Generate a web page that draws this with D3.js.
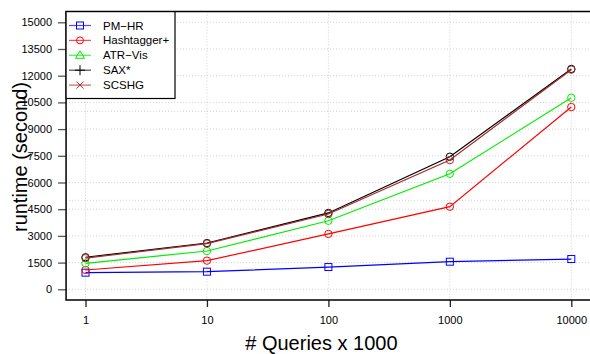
<!DOCTYPE html>
<html>
<head>
<meta charset="utf-8">
<script src="https://cdn.jsdelivr.net/npm/d3@7"></script>
<style>
  body { margin: 0; background: #fff; }
  text { font-family: "Liberation Sans", Arial, Helvetica, sans-serif; }
</style>
</head>
<body>
<div id="chart-area"></div>
<script>
// Datos
var queries = [1, 10, 100, 1000, 10000];
var xTickLabels = ["1", "10", "100", "1000", "10000"];
var yTicks = [0, 1500, 3000, 4500, 6000, 7500, 9000, 10500, 12000, 13500, 15000];
var yGridExtra = [5000, 10000];

var seriesNames = ["PM\u2212HR", "Hashtagger+", "ATR\u2212Vis", "SAX*", "SCSHG"];
var pmhr       = [935, 990, 1250, 1550, 1700];
var hashtagger = [1085, 1610, 3110, 4640, 10240];
var atrvis     = [1460, 2150, 3850, 6490, 10760];
var sax        = [1800, 2600, 4290, 7450, 12380];
var scshg      = [1750, 2570, 4230, 7260, 12340];

var colors = ["#0000ff", "#ff0000", "#00ee00", "#000000", "#a52a2a"];
var allSeries = [pmhr, hashtagger, atrvis, sax, scshg];

var width = 590, height = 354;

var svg = d3.select("#chart-area")
    .append("svg")
    .attr("width", width)
    .attr("height", height);

// Escalas
var x = d3.scaleLog().domain([1, 10000]).range([85.5, 571.3]);
var y = d3.scaleLinear().domain([0, 15000]).range([289.3, 22.3]);

var boxLeft = x(Math.pow(10, -0.16)), boxRight = x(Math.pow(10, 4.16));
var boxTop = y(15600), boxBottom = y(-600);

// Grid
var grid = svg.append("g").attr("class", "grid")
    .attr("stroke", "#cfcfcf").attr("stroke-dasharray", "1,2");
grid.selectAll("line.h")
    .data(yTicks.concat(yGridExtra))
    .enter().append("line")
    .attr("x1", boxLeft).attr("x2", boxRight)
    .attr("y1", d => y(d)).attr("y2", d => y(d));
grid.selectAll("line.v")
    .data(queries)
    .enter().append("line")
    .attr("x1", d => x(d)).attr("x2", d => x(d))
    .attr("y1", boxTop).attr("y2", boxBottom);

// Lineas
var line = d3.line()
    .x((d, i) => x(queries[i]))
    .y(d => y(d));

allSeries.forEach((s, k) => {
    svg.append("path")
        .datum(s)
        .attr("fill", "none")
        .attr("stroke", colors[k])
        .attr("stroke-width", 1.2)
        .attr("d", line);
    var pts = svg.selectAll(".pt" + k).data(s).enter();
    if (k === 0) {
        pts.append("rect")
            .attr("x", (d, i) => x(queries[i]) - 3.5)
            .attr("y", d => y(d) - 3.5)
            .attr("width", 7).attr("height", 7)
            .attr("fill", "none").attr("stroke", colors[k]);
    } else {
        pts.append("circle")
            .attr("cx", (d, i) => x(queries[i]))
            .attr("cy", d => y(d))
            .attr("r", 3.7)
            .attr("fill", "none").attr("stroke", colors[k]);
    }
});

// Ejes
var leftAxis = d3.axisLeft(y).tickValues(yTicks).tickFormat(d => d).tickSize(8).tickPadding(6);
var gy = svg.append("g")
    .attr("transform", "translate(" + boxLeft + ",0)")
    .call(leftAxis);
gy.select(".domain").remove();
gy.selectAll(".tick line").attr("stroke", "#555").attr("stroke-width", 1.3);
gy.selectAll("text").attr("font-size", "11px").attr("fill", "#000");

var bottomAxis = d3.axisBottom(x).tickValues(queries)
    .tickFormat((d, i) => xTickLabels[i]).tickSize(7).tickPadding(9);
var gx = svg.append("g")
    .attr("transform", "translate(0," + boxBottom + ")")
    .call(bottomAxis);
gx.select(".domain").remove();
gx.selectAll(".tick line").attr("stroke", "#222").attr("stroke-width", 1.3);
gx.selectAll("text").attr("font-size", "11px").attr("fill", "#000");

// Caja
svg.append("path")
    .attr("d", "M" + boxRight + "," + boxTop + "H" + boxLeft + "V" + boxBottom + "H" + boxRight)
    .attr("fill", "none").attr("stroke", "#000").attr("stroke-width", 1.5);

// Leyenda
var lg = svg.append("g");
lg.append("rect")
    .attr("x", boxLeft).attr("y", boxTop)
    .attr("width", 175 - boxLeft).attr("height", 98.5 - boxTop)
    .attr("fill", "#fff").attr("stroke", "#000").attr("stroke-width", 1.2);
seriesNames.forEach((name, k) => {
    var ly = 25.5 + k * 14.9;
    lg.append("line")
        .attr("x1", 69).attr("x2", 91).attr("y1", ly).attr("y2", ly)
        .attr("stroke", colors[k]).attr("stroke-opacity", 0.7).attr("stroke-width", 1.2);
    var c = colors[k], cx = 80;
    if (k === 0) {
        lg.append("rect").attr("x", cx - 3.5).attr("y", ly - 3.5).attr("width", 7).attr("height", 7)
            .attr("fill", "none").attr("stroke", c);
    } else if (k === 1) {
        lg.append("circle").attr("cx", cx).attr("cy", ly).attr("r", 3.5)
            .attr("fill", "none").attr("stroke", c);
    } else if (k === 2) {
        lg.append("path").attr("d", "M" + cx + "," + (ly - 4.5) + "L" + (cx + 4.5) + "," + (ly + 3) + "L" + (cx - 4.5) + "," + (ly + 3) + "Z")
            .attr("fill", "none").attr("stroke", c);
    } else if (k === 3) {
        lg.append("path").attr("d", "M" + (cx - 5) + "," + ly + "H" + (cx + 5) + "M" + cx + "," + (ly - 5) + "V" + (ly + 5))
            .attr("stroke", c);
    } else {
        lg.append("path").attr("d", "M" + (cx - 3.5) + "," + (ly - 3.5) + "L" + (cx + 3.5) + "," + (ly + 3.5) + "M" + (cx + 3.5) + "," + (ly - 3.5) + "L" + (cx - 3.5) + "," + (ly + 3.5))
            .attr("stroke", c);
    }
    lg.append("text")
        .attr("x", 103).attr("y", ly + 4)
        .attr("font-size", "11.5px")
        .text(name);
});

// Titulos
svg.append("text")
    .attr("x", (boxLeft + boxRight) / 2 - 7).attr("y", 350)
    .attr("text-anchor", "middle")
    .attr("font-size", "20px")
    .text("# Queries x 1000");

svg.append("text")
    .attr("transform", "rotate(-90)")
    .attr("x", -157).attr("y", 27)
    .attr("text-anchor", "middle")
    .attr("font-size", "20px")
    .text("runtime (second)");
</script>
</body>
</html>
